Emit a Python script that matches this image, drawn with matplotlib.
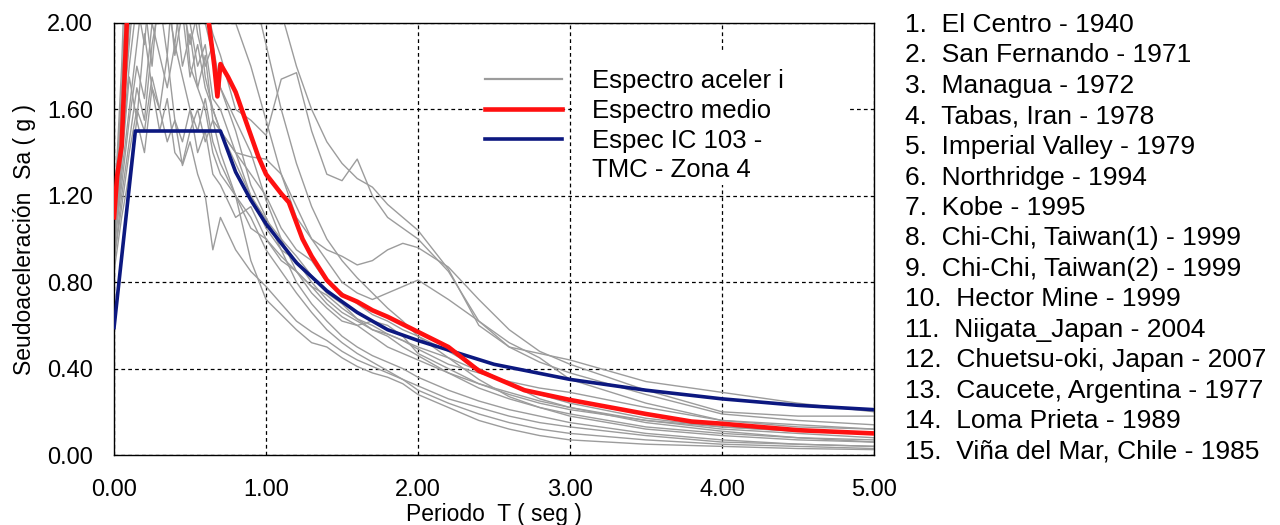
import numpy as np
import matplotlib
matplotlib.use("Agg")
import matplotlib.pyplot as plt
from matplotlib.patches import Rectangle
from matplotlib.lines import Line2D

plt.rcParams['font.family'] = ['Liberation Sans', 'DejaVu Sans']

# periodos comunes de los espectros individuales (seg)
T_reg = [0.00, 0.05, 0.10, 0.15, 0.20, 0.25, 0.30, 0.35, 0.40, 0.45, 0.50, 0.55, 0.60, 0.65, 0.70,
         0.80, 0.90, 1.00, 1.10, 1.20, 1.30, 1.40, 1.50, 1.60, 1.70, 1.80, 1.90, 2.00,
         2.20, 2.40, 2.60, 2.80, 3.00, 3.50, 4.00, 4.50, 5.00]

sa_el_centro = [0.95, 1.35, 1.75, 1.55, 1.95, 1.70, 1.60, 1.85, 1.55, 1.45, 1.60, 1.40, 1.50, 1.30, 1.25,
                1.10, 1.15, 1.00, 0.90, 0.85, 0.78, 0.70, 0.64, 0.60, 0.55, 0.50, 0.47, 0.44,
                0.38, 0.33, 0.29, 0.25, 0.22, 0.16, 0.12, 0.10, 0.08]
sa_san_fernando = [1.05, 1.60, 2.30, 2.60, 2.40, 2.80, 2.50, 2.20, 2.40, 2.10, 1.90, 2.05, 1.75, 1.60, 1.50,
                   1.40, 1.20, 1.05, 0.95, 0.90, 0.80, 0.72, 0.66, 0.62, 0.58, 0.55, 0.50, 0.46,
                   0.38, 0.31, 0.26, 0.22, 0.19, 0.13, 0.10, 0.08, 0.06]
sa_managua = [1.00, 1.50, 1.90, 2.30, 2.10, 1.80, 2.20, 2.50, 2.30, 2.00, 2.20, 1.95, 1.80, 1.90, 1.70,
              1.50, 1.25, 1.10, 0.95, 0.80, 0.70, 0.62, 0.55, 0.50, 0.46, 0.43, 0.40, 0.36,
              0.30, 0.25, 0.21, 0.18, 0.15, 0.10, 0.07, 0.05, 0.04]
sa_tabas = [1.10, 1.80, 2.80, 3.20, 3.00, 3.50, 3.30, 3.00, 3.20, 2.90, 3.10, 2.80, 2.60, 2.70, 2.50,
            2.40, 2.30, 2.20, 2.05, 1.80, 1.60, 1.45, 1.35, 1.28, 1.24, 1.16, 1.10, 1.04,
            0.86, 0.60, 0.50, 0.47, 0.44, 0.34, 0.29, 0.24, 0.20]
sa_imperial = [0.90, 1.20, 1.45, 1.70, 1.55, 1.90, 2.10, 1.85, 2.30, 2.00, 2.20, 2.40, 2.10, 1.95, 1.85,
               1.60, 1.55, 1.48, 1.74, 1.77, 1.50, 1.30, 1.27, 1.37, 1.20, 1.10, 1.05, 1.00,
               0.85, 0.62, 0.50, 0.43, 0.38, 0.28, 0.19, 0.16, 0.14]
sa_northridge = [1.00, 1.40, 2.00, 2.40, 2.20, 2.60, 2.30, 2.50, 2.10, 2.30, 2.00, 1.80, 1.90, 1.65, 1.60,
                 1.40, 1.30, 1.20, 1.05, 0.95, 0.90, 0.80, 0.75, 0.70, 0.65, 0.62, 0.58, 0.55,
                 0.48, 0.40, 0.33, 0.28, 0.24, 0.17, 0.13, 0.11, 0.10]
sa_kobe = [1.05, 1.70, 2.50, 3.00, 2.80, 3.20, 3.50, 3.10, 2.90, 3.20, 2.80, 2.60, 2.90, 2.50, 2.30,
           2.10, 2.20, 1.90, 1.60, 1.35, 1.15, 1.00, 0.90, 0.82, 0.75, 0.68, 0.62, 0.55,
           0.45, 0.35, 0.27, 0.22, 0.18, 0.12, 0.09, 0.07, 0.06]
sa_chichi_1 = [0.85, 1.10, 1.30, 1.55, 1.40, 1.70, 1.50, 1.65, 1.40, 1.35, 1.50, 1.60, 1.45, 1.55, 1.50,
               1.40, 1.38, 1.37, 1.30, 1.15, 1.00, 0.95, 0.92, 0.88, 0.90, 0.95, 0.98, 0.96,
               0.87, 0.72, 0.58, 0.48, 0.42, 0.30, 0.20, 0.18, 0.18]
sa_chichi_2 = [0.95, 1.30, 1.60, 1.90, 2.20, 2.00, 2.40, 2.10, 1.90, 2.20, 1.80, 1.70, 1.60, 1.40, 1.30,
               1.20, 1.05, 1.00, 0.92, 0.85, 0.78, 0.74, 0.68, 0.63, 0.60, 0.56, 0.53, 0.49,
               0.42, 0.38, 0.34, 0.31, 0.29, 0.22, 0.16, 0.14, 0.12]
sa_hector = [0.90, 1.15, 1.40, 1.60, 1.50, 1.75, 1.60, 1.45, 1.55, 1.34, 1.45, 1.30, 1.20, 0.95, 1.10,
             0.95, 0.85, 0.78, 0.70, 0.62, 0.57, 0.53, 0.48, 0.44, 0.41, 0.38, 0.35, 0.32,
             0.26, 0.22, 0.18, 0.15, 0.13, 0.09, 0.06, 0.05, 0.04]
sa_niigata = [1.10, 1.60, 2.20, 2.00, 2.50, 2.30, 2.70, 2.40, 2.60, 2.20, 2.40, 2.10, 2.00, 1.85, 1.70,
              1.55, 1.40, 1.18, 1.00, 0.85, 0.75, 0.68, 0.62, 0.60, 0.62, 0.60, 0.55, 0.47,
              0.40, 0.33, 0.28, 0.24, 0.21, 0.16, 0.13, 0.11, 0.10]
sa_chuetsu = [1.00, 1.50, 2.10, 2.40, 2.70, 2.40, 2.80, 3.00, 2.60, 2.80, 2.50, 2.70, 2.40, 2.20, 2.30,
              2.00, 1.80, 1.55, 1.30, 1.10, 1.00, 0.90, 0.80, 0.75, 0.72, 0.75, 0.78, 0.81,
              0.72, 0.62, 0.52, 0.45, 0.35, 0.24, 0.16, 0.13, 0.12]
sa_caucete = [0.95, 1.25, 1.55, 1.80, 1.65, 2.00, 1.85, 1.70, 1.90, 1.75, 1.60, 1.50, 1.65, 1.45, 1.35,
              1.20, 1.10, 0.95, 0.85, 0.75, 0.66, 0.58, 0.52, 0.47, 0.43, 0.39, 0.35, 0.30,
              0.24, 0.19, 0.15, 0.12, 0.10, 0.07, 0.05, 0.04, 0.03]
sa_loma_prieta = [1.00, 1.40, 1.80, 2.10, 1.90, 2.30, 2.00, 2.20, 1.85, 2.05, 1.75, 1.90, 1.70, 1.60, 1.50,
                  1.35, 1.20, 1.09, 1.00, 0.92, 0.83, 0.75, 0.70, 0.63, 0.58, 0.56, 0.53, 0.50,
                  0.45, 0.39, 0.33, 0.26, 0.22, 0.15, 0.11, 0.08, 0.07]
sa_vina = [1.05, 1.50, 2.00, 2.20, 2.50, 2.20, 2.40, 2.00, 2.10, 1.80, 1.95, 1.70, 1.85, 1.55, 1.40,
           1.20, 0.90, 0.72, 0.65, 0.58, 0.52, 0.50, 0.45, 0.41, 0.38, 0.36, 0.33, 0.28,
           0.22, 0.16, 0.12, 0.09, 0.07, 0.05, 0.04, 0.03, 0.025]

registros = [sa_el_centro, sa_san_fernando, sa_managua, sa_tabas, sa_imperial, sa_northridge,
             sa_kobe, sa_chichi_1, sa_chichi_2, sa_hector, sa_niigata, sa_chuetsu,
             sa_caucete, sa_loma_prieta, sa_vina]

# espectro medio
T_medio = [0.00, 0.02, 0.05, 0.07, 0.09, 0.20, 0.35, 0.50, 0.62, 0.66, 0.68, 0.70, 0.75, 0.80, 0.87,
           0.95, 1.00, 1.10, 1.15, 1.24, 1.30, 1.40, 1.50, 1.60, 1.70, 1.80, 2.00, 2.20, 2.40, 2.50,
           2.70, 3.00, 3.50, 3.80, 4.00, 4.50, 5.00]
sa_medio = [1.10, 1.29, 1.43, 1.77, 2.10, 2.50, 2.60, 2.40, 2.02, 1.80, 1.66, 1.81, 1.75, 1.68, 1.54,
            1.38, 1.30, 1.21, 1.17, 1.00, 0.92, 0.81, 0.74, 0.71, 0.67, 0.64, 0.57, 0.50, 0.39, 0.36,
            0.30, 0.255, 0.19, 0.155, 0.145, 0.115, 0.10]

# espectro de diseño
T_norma = [0.00, 0.14, 0.70, 0.80, 0.90, 1.00, 1.20, 1.40, 1.50, 1.60, 1.80, 2.00, 2.50, 3.00, 3.50, 4.00, 4.50, 5.00]
sa_norma = [0.59, 1.50, 1.50, 1.31, 1.18, 1.07, 0.89, 0.76, 0.71, 0.66, 0.58, 0.53, 0.42, 0.35, 0.30, 0.26, 0.23, 0.21]

sismos = ["El Centro - 1940", "San Fernando - 1971", "Managua - 1972", "Tabas, Iran - 1978",
          "Imperial Valley - 1979", "Northridge - 1994", "Kobe - 1995",
          "Chi-Chi, Taiwan(1) - 1999", "Chi-Chi, Taiwan(2) - 1999", "Hector Mine - 1999",
          "Niigata_Japan - 2004", "Chuetsu-oki, Japan - 2007", "Caucete, Argentina - 1977",
          "Loma Prieta - 1989", "Viña del Mar, Chile - 1985"]

yticks = [0.0, 0.4, 0.8, 1.2, 1.6, 2.0]
xticks = [0.0, 1.0, 2.0, 3.0, 4.0, 5.0]

fig = plt.figure(figsize=(12.8, 5.25), dpi=100)
ax = fig.add_axes([0.0891, 0.1333, 0.5937, 0.8229])

for sa in registros:
    ax.plot(T_reg, sa, color='#9c9c9c', lw=1.0, zorder=2)
ax.plot(T_norma, sa_norma, color='#0c1880', lw=2.6, zorder=3)
ax.plot(T_medio, sa_medio, color='#ff1010', lw=3.3, zorder=4)

ax.set_xlim(0, 5)
ax.set_ylim(0, 2)
ax.set_xticks(xticks)
ax.set_yticks(yticks)
ax.set_xticklabels(["%.2f" % v for v in xticks], fontsize=17)
ax.set_yticklabels(["%.2f" % v for v in yticks], fontsize=17)
ax.tick_params(axis='both', length=0)
ax.tick_params(axis='y', pad=15)
ax.tick_params(axis='x', pad=17)
ax.set_axisbelow(True)
ax.grid(True, color='black', lw=0.9, linestyle=(0, (3, 2.5)))
for s in ax.spines.values():
    s.set_linewidth(1.0)

ax.set_xlabel("Periodo  T ( seg )", fontsize=16.5, labelpad=2)
ax.set_ylabel("Seudoaceleración  Sa ( g )", fontsize=16.5, labelpad=8)

# fondo blanco del texto de la leyenda
ax.add_patch(Rectangle((3.03, 1.25), 1.80, 0.61, facecolor='white', edgecolor='none', zorder=1))

handles = [Line2D([], [], color='#9c9c9c', lw=1.6),
           Line2D([], [], color='#ff1010', lw=3.3),
           Line2D([], [], color='#0c1880', lw=2.6),
           Line2D([], [], color='none', lw=0)]
labels = ["Espectro aceler i", "Espectro medio", "Espec IC 103 -", "TMC - Zona 4"]
ax.legend(handles, labels, loc='upper left', bbox_to_anchor=(0.488, 0.893), frameon=False,
          fontsize=18.5, handlelength=3.0, handletextpad=1.15, labelspacing=0.22, borderpad=0,
          borderaxespad=0)

for i, nombre in enumerate(sismos):
    fig.text(0.707, 1 - (25 + i * 30.5) / 525, "%d.  %s" % (i + 1, nombre),
             fontsize=19, va='center', ha='left')

fig.savefig("out.png", dpi=100)
